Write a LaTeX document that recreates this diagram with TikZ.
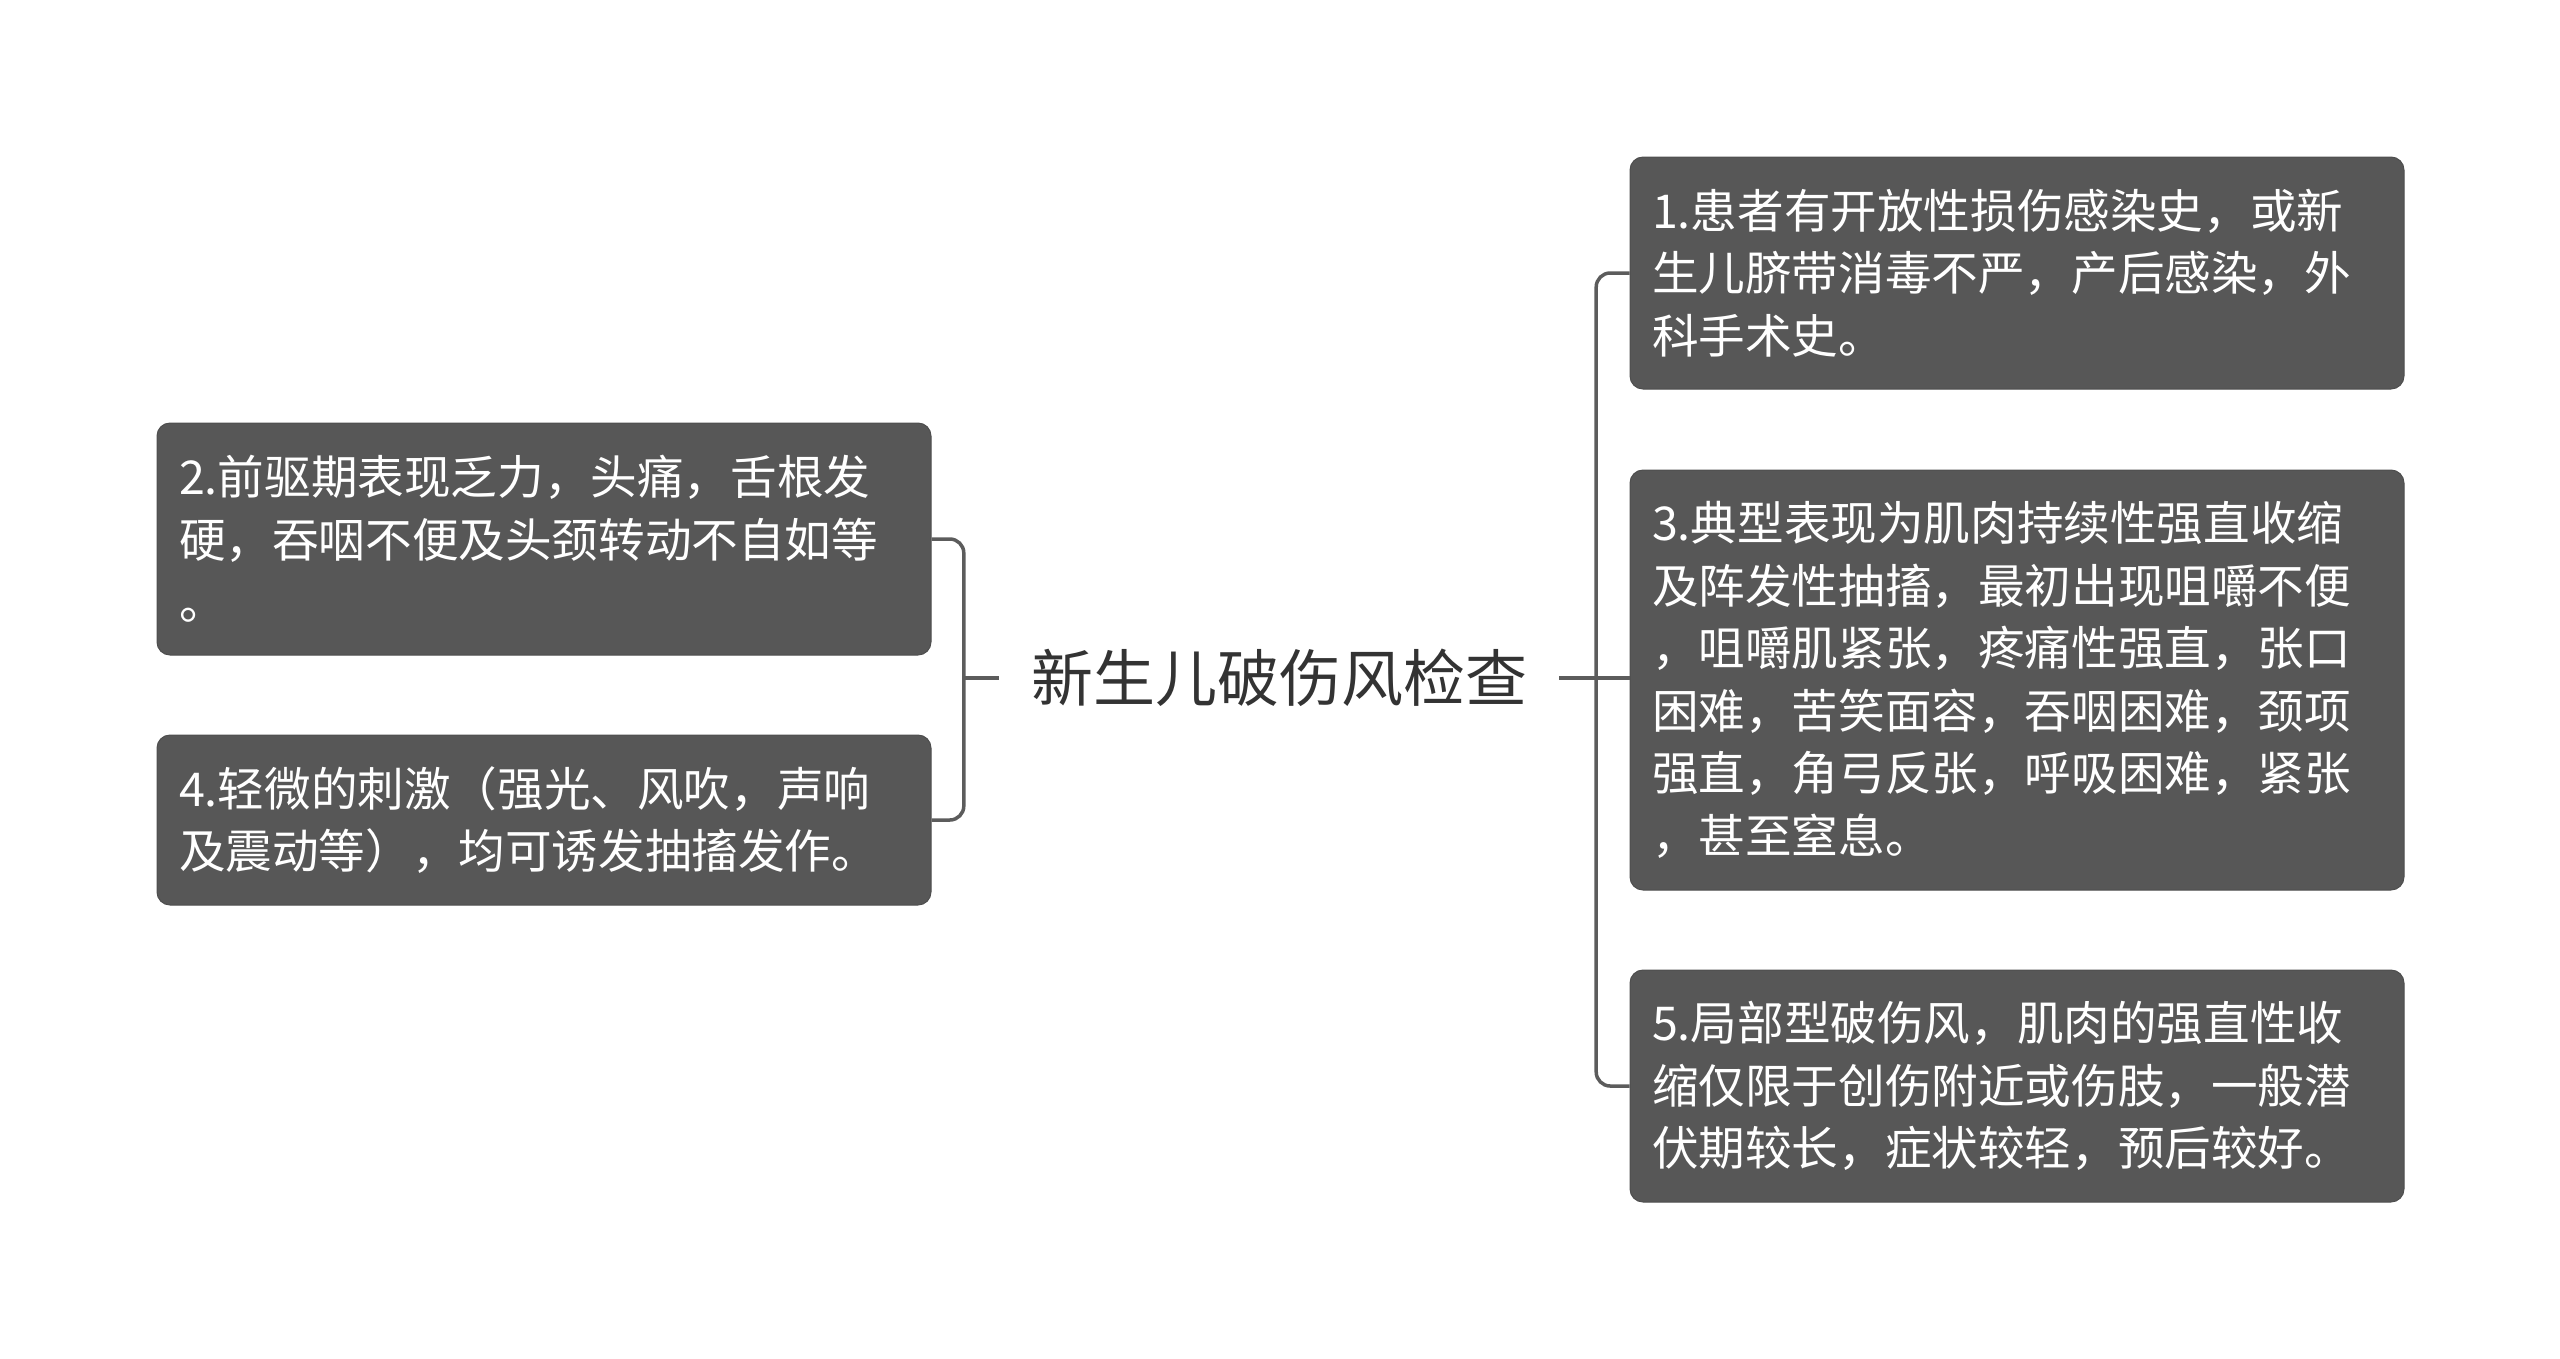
\documentclass[tikz,border=0pt]{standalone}
\usepackage{fontspec}
\setmainfont{Noto Sans CJK SC}
\usepackage{tikz}
\definecolor{boxgray}{HTML}{575757}
\definecolor{boxedge}{HTML}{4E4E4E}
\definecolor{linegray}{HTML}{5C5C5C}
\definecolor{rootgray}{HTML}{333333}
\begin{document}
\begin{tikzpicture}[x=1pt,y=-1pt,
  topic/.style={rectangle,rounded corners=13pt,fill=boxgray,draw=boxedge,line width=1pt,
    text=white,text width=730pt,inner xsep=22pt,align=left,
    font=\fontsize{46.6}{62.5}\selectfont},
  root/.style={text=rootgray,inner xsep=32pt,font=\fontsize{62}{70}\selectfont},
  link/.style={draw=linegray,line width=3.5pt,rounded corners=14pt}]
\useasboundingbox (0,0) rectangle (2560,1358);
% centre
\node[root] (root) at (1279,678) {新生儿破伤风检查};
% left side
\node[topic,minimum height=232pt] (b2) at (544,539) {2.前驱期表现乏力，头痛，舌根发\\硬，吞咽不便及头颈转动不自如等\\。};
\node[topic,minimum height=170pt] (b4) at (544,820) {4.轻微的刺激（强光、风吹，声响\\及震动等），均可诱发抽搐发作。};
% right side
\node[topic,minimum height=232pt] (b1) at (2017,273) {1.患者有开放性损伤感染史，或新\\生儿脐带消毒不严，产后感染，外\\科手术史。};
\node[topic,minimum height=420pt] (b3) at (2017,680) {3.典型表现为肌肉持续性强直收缩\\及阵发性抽搐，最初出现咀嚼不便\\，咀嚼肌紧张，疼痛性强直，张口\\困难，苦笑面容，吞咽困难，颈项\\强直，角弓反张，呼吸困难，紧张\\，甚至窒息。};
\node[topic,minimum height=232pt] (b5) at (2017,1086) {5.局部型破伤风，肌肉的强直性收\\缩仅限于创伤附近或伤肢，一般潜\\伏期较长，症状较轻，预后较好。};
% connectors
\draw[link] (root.west) -- ++(-35,0) coordinate (lj);
\draw[link] (b2.east) -| (lj) |- (b4.east);
\draw[link] (root.east) -- ++(37,0) coordinate (rj);
\draw[link] (b1.west) -| (rj) |- (b5.west);
\draw[link] (rj) -- (rj -| b3.west);
\end{tikzpicture}
\end{document}
